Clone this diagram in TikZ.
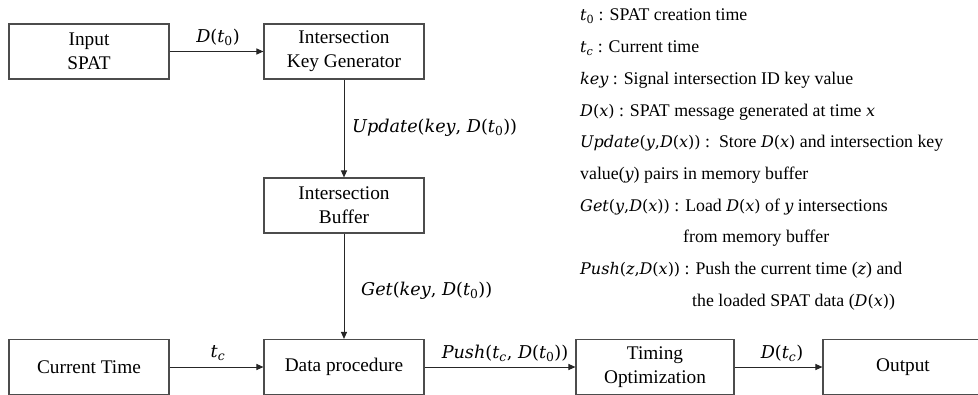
\documentclass[tikz,border=0pt]{standalone}
\usepackage{fontspec}
\setmainfont{Liberation Serif}
\newfontfamily\tnr{Liberation Serif}
\newfontfamily\dvs[Scale=0.9]{DejaVu Serif}
\newcommand{\mi}[1]{{\dvs\itshape #1}}
\newcommand{\mup}[1]{{\dvs\upshape #1}}
\newcommand{\msub}[1]{\textsubscript{\dvs\upshape #1}}
\newcommand{\Dof}[1]{\mi{D}\mup{(}#1\mup{)}}
\usetikzlibrary{arrows.meta}
\begin{document}
\begin{tikzpicture}[x=1pt,y=-1pt,
  box/.style={draw=black!70, line width=1.1pt, minimum width=160pt, minimum height=55pt,
    inner sep=0pt, align=center, font=\tnr\fontsize{19.3}{24}\selectfont},
  arr/.style={draw=black!85, line width=1pt, -{Triangle[length=7pt,width=6pt]}},
  lbl/.style={font=\tnr\fontsize{19.6}{22}\selectfont, inner sep=0pt},
  leg/.style={anchor=west, inner sep=0pt, font=\tnr\fontsize{17.8}{20}\selectfont}]
\useasboundingbox (0,0) rectangle (978,394);
\clip (0,0) rectangle (978,394);
% boxes
\node[box] (input) at (89,51.5) {Input\\SPAT};
\node[box] (ikg) at (344,51.5) {Intersection\\Key Generator};
\node[box] (buf) at (344,205.5) {Intersection\\Buffer};
\node[box] (ct) at (89,367) {Current Time};
\node[box] (dp) at (344,367) {Data procedure};
\node[box, minimum width=158pt] (to) at (655,367) {Timing\\Optimization};
\node[box] (out) at (903,367) {Output};
% arrows
\draw[arr] (input) -- (ikg);
\draw[arr] (ikg) -- (buf);
\draw[arr] (buf) -- (dp);
\draw[arr] (ct) -- (dp);
\draw[arr] (dp) -- (to);
\draw[arr] (to) -- (out);
% labels
\node[lbl] (l1) at (218,37) {\Dof{\mi{t}\msub{0}}};
\node[lbl, anchor=west] (l2) at (352,128) {\mi{Update}\mup{(}\mi{key}\mup{, }\Dof{\mi{t}\msub{0}}\mup{)}};
\node[lbl, anchor=west] (l3) at (361,291) {\mi{Get}\mup{(}\mi{key}\mup{, }\Dof{\mi{t}\msub{0}}\mup{)}};
\node[lbl] (l4) at (218,353) {\mi{t}\msub{\itshape c}};
\node[lbl] (l5) at (505,353) {\mi{Push}\mup{(}\mi{t}\msub{\itshape c}\mup{, }\Dof{\mi{t}\msub{0}}\mup{)}};
\node[lbl] (l6) at (782,353) {\Dof{\mi{t}\msub{\itshape c}}};
% legend
\node[leg] (g1) at (580,16) {\mi{t}\msub{0} : SPAT creation time};
\node[leg] (g2) at (580,48) {\mi{t}\msub{\itshape c} : Current time};
\node[leg] (g3) at (580,80) {\mi{key} : Signal intersection ID key value};
\node[leg] (g4) at (580,112) {\Dof{\mi{x}} : SPAT message generated at time \mi{x}};
\node[leg] (g5) at (580,143) {\mi{Update}\mup{(}\mi{y}\mup{,}\Dof{\mi{x}}\mup{)} :\ \ Store \Dof{\mi{x}} and intersection key};
\node[leg] (g6) at (580,175) {value(\mi{y}) pairs in memory buffer};
\node[leg] (g7) at (580,207) {\mi{Get}\mup{(}\mi{y}\mup{,}\Dof{\mi{x}}\mup{)} : Load \Dof{\mi{x}} of \mi{y} intersections};
\node[leg] (g8) at (683,238) {from memory buffer};
\node[leg] (g9) at (580,270) {\mi{Push}\mup{(}\mi{z}\mup{,}\Dof{\mi{x}}\mup{)} : Push the current time (\mi{z}) and};
\node[leg] (g10) at (692,302) {the loaded SPAT data (\Dof{\mi{x}})};
\end{tikzpicture}
\end{document}
